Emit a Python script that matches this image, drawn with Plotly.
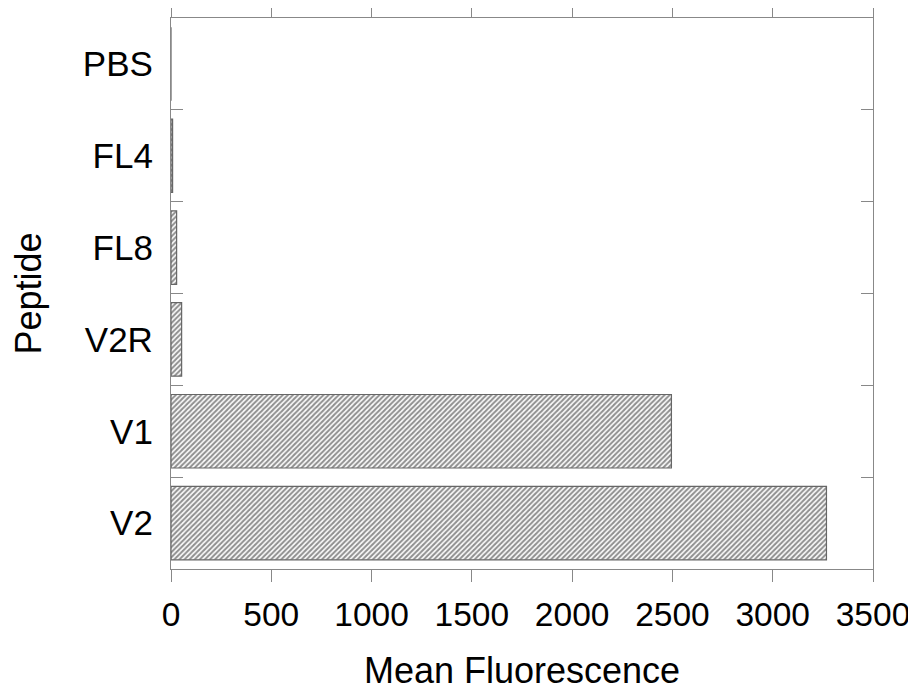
import plotly.graph_objects as go

peptides = ["V2", "V1", "V2R", "FL8", "FL4", "PBS"]
fluorescence = [3268, 2495, 53, 28, 8, 0]
x_ticks = [0, 500, 1000, 1500, 2000, 2500, 3000, 3500]

axis_color = "#888888"
font_family = "Liberation Sans, Arial, sans-serif"

fig = go.Figure(
    go.Bar(
        y=peptides,
        x=fluorescence,
        orientation="h",
        width=0.8,
        marker=dict(
            color="white",
            line=dict(color="#666666", width=1.2),
            pattern=dict(shape="/", fgcolor="#222222", bgcolor="white", size=3.6, solidity=0.55),
        ),
    )
)

fig.update_layout(
    width=908,
    height=685,
    margin=dict(l=163, r=43, t=10, b=124),
    paper_bgcolor="white",
    plot_bgcolor="white",
    showlegend=False,
    font=dict(family=font_family, size=34, color="black"),
    xaxis=dict(
        range=[0, 3500],
        tickvals=x_ticks,
        ticks="outside",
        ticklen=12,
        tickcolor=axis_color,
        tickwidth=1.2,
        showline=True,
        linecolor=axis_color,
        linewidth=1.2,
        mirror="ticks",
        showgrid=False,
        zeroline=False,
        automargin=False,
        tickfont=dict(size=33.5),
        ticklabelstandoff=4,
        title=dict(text="Mean Fluorescence", font=dict(size=36), standoff=25),
    ),
    yaxis=dict(
        type="category",
        categoryorder="array",
        categoryarray=peptides,
        range=[-0.5, 5.5],
        tickson="boundaries",
        ticks="inside",
        ticklen=12,
        tickcolor=axis_color,
        tickwidth=1.2,
        showline=True,
        linecolor=axis_color,
        linewidth=1.2,
        mirror="ticks",
        showgrid=False,
        zeroline=False,
        automargin=False,
        tickfont=dict(size=35),
        ticklabelstandoff=10,
        title=dict(text="Peptide", font=dict(size=36), standoff=36),
    ),
)

fig.write_html("out.html")
